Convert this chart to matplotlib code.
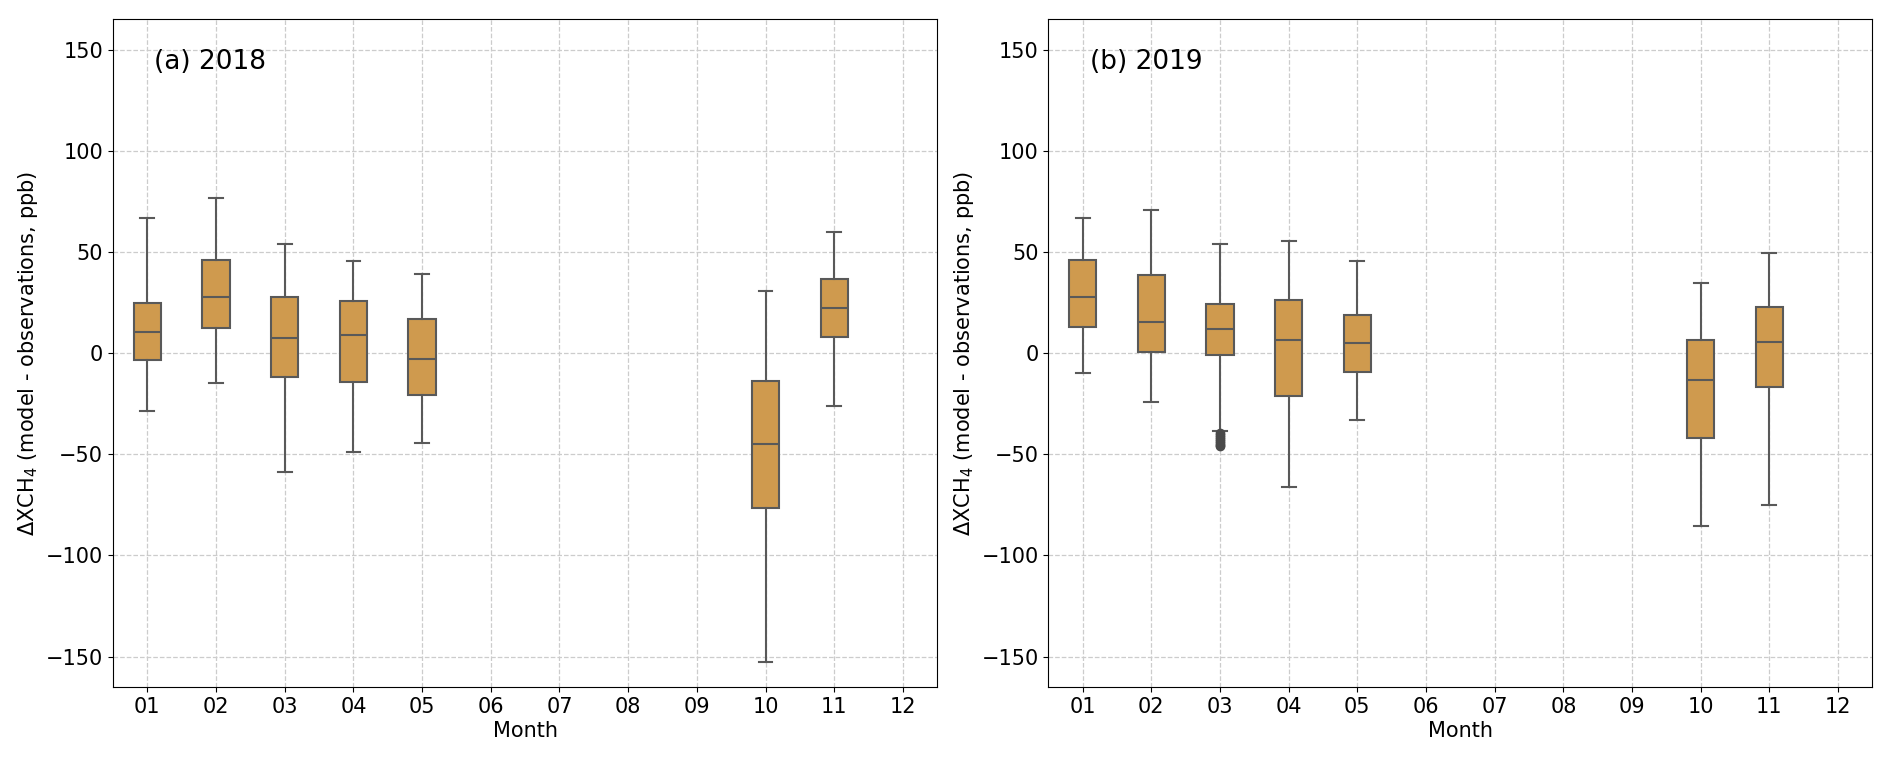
import matplotlib
matplotlib.use("Agg")
import matplotlib.pyplot as plt

months = ["01", "02", "03", "04", "05", "06", "07", "08", "09", "10", "11", "12"]

# 2018 statistics (months with data)
m2018 = ["01", "02", "03", "04", "05", "10", "11"]
wlo_2018 = [-28.6, -15.0, -58.7, -48.7, -44.4, -152.6, -26.2]
q1_2018 = [-3.3, 12.4, -11.9, -14.5, -20.7, -76.6, 8.1]
med_2018 = [10.3, 27.7, 7.4, 9.1, -2.9, -45.1, 22.4]
q3_2018 = [24.8, 46.0, 27.9, 25.8, 16.7, -13.8, 36.5]
whi_2018 = [66.8, 76.8, 53.7, 45.6, 38.9, 30.5, 59.9]

# 2019 statistics
m2019 = ["01", "02", "03", "04", "05", "10", "11"]
wlo_2019 = [-10.0, -24.3, -38.6, -66.1, -33.2, -85.4, -75.1]
q1_2019 = [12.9, 0.7, -0.7, -21.0, -9.3, -41.7, -16.5]
med_2019 = [27.9, 15.3, 11.7, 6.7, 4.8, -13.4, 5.5]
q3_2019 = [45.8, 38.4, 24.3, 26.5, 18.8, 6.4, 22.9]
whi_2019 = [67.0, 70.6, 53.9, 55.6, 45.3, 34.6, 49.6]
fliers_2019_03 = [-39.5, -40.5, -41.5, -42.5, -43.5, -44.5, -45.5, -46.0]

box_color = "#cf9a4e"
edge_color = "#595959"

fig = plt.figure(figsize=(18.92, 7.57), dpi=100)
ax1 = fig.add_axes([0.0597, 0.0925, 0.4357, 0.882])
ax2 = fig.add_axes([0.5541, 0.0925, 0.4355, 0.882])


def draw(ax, mlist, wlo, q1, med, q3, whi, fliers, label):
    stats = []
    pos = []
    for i, m in enumerate(mlist):
        stats.append({
            "whislo": wlo[i], "q1": q1[i], "med": med[i], "q3": q3[i], "whishi": whi[i],
            "fliers": fliers.get(m, []),
        })
        pos.append(months.index(m))
    ax.set_axisbelow(True)
    ax.grid(True, linestyle="--", color="#cccccc", linewidth=0.9)
    ax.bxp(stats, positions=pos, widths=0.4, patch_artist=True, showfliers=True,
           boxprops=dict(facecolor=box_color, edgecolor=edge_color, linewidth=1.5),
           medianprops=dict(color=edge_color, linewidth=1.5),
           whiskerprops=dict(color=edge_color, linewidth=1.5),
           capprops=dict(color=edge_color, linewidth=1.5),
           capwidths=0.2,
           flierprops=dict(marker="o", markerfacecolor="#4a4a4a", markeredgecolor="#4a4a4a",
                           markersize=6))
    ax.set_xlim(-0.5, 11.5)
    ax.set_ylim(-165, 165)
    ax.set_xticks(range(12))
    ax.set_xticklabels(months)
    ax.set_yticks([-150, -100, -50, 0, 50, 100, 150])
    ax.tick_params(labelsize=15)
    ax.set_xlabel("Month", fontsize=15, labelpad=3)
    ax.set_ylabel(r"$\Delta$XCH$_4$ (model - observations, ppb)", fontsize=15)
    ax.text(0.05, 0.955, label, transform=ax.transAxes, fontsize=19, va="top", ha="left")


draw(ax1, m2018, wlo_2018, q1_2018, med_2018, q3_2018, whi_2018, {}, "(a) 2018")
draw(ax2, m2019, wlo_2019, q1_2019, med_2019, q3_2019, whi_2019, {"03": fliers_2019_03}, "(b) 2019")

fig.savefig("out.png", dpi=100)
